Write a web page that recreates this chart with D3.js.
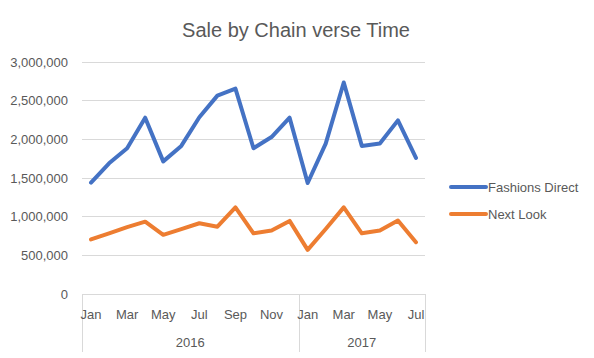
<!DOCTYPE html>
<html>
<head>
<meta charset="utf-8">
<script src="https://cdn.jsdelivr.net/npm/d3@7"></script>
<style>
  html, body { margin: 0; padding: 0; background: #fff; }
  svg { display: block; }
  text { font-family: "Liberation Sans", Arial, sans-serif; fill: #595959; }
</style>
</head>
<body>
<svg id="chart" width="594" height="358"></svg>
<script>
// ---- data ----
const monthLabels = ["Jan","Feb","Mar","Apr","May","Jun","Jul","Aug","Sep","Oct","Nov","Dec",
                     "Jan","Feb","Mar","Apr","May","Jun","Jul"];
const yearOfMonth = [2016,2016,2016,2016,2016,2016,2016,2016,2016,2016,2016,2016,
                     2017,2017,2017,2017,2017,2017,2017];
const years = [2016, 2017];
const fashionsDirect = [1440000,1690000,1885000,2280000,1715000,1915000,2285000,2565000,2655000,1885000,2030000,2280000,
                        1435000,1945000,2735000,1915000,1945000,2245000,1760000];
const nextLook = [705000,785000,865000,935000,765000,840000,915000,870000,1120000,785000,820000,945000,
                  570000,840000,1120000,785000,820000,950000,670000];
const yTicks = [0,500000,1000000,1500000,2000000,2500000,3000000];
const seriesNames = ["Fashions Direct","Next Look"];
const seriesColors = ["#4472C4","#ED7D31"];
const chartTitle = "Sale by Chain verse Time";

// ---- layout ----
const svg = d3.select("#chart");
const plotL = 82, plotR = 425, plotT = 62, plotB = 294;
const keys = monthLabels.map((m, i) => yearOfMonth[i] + "-" + m + "-" + i);

const x = d3.scaleBand().domain(keys).range([plotL, plotR]).padding(0);
const y = d3.scaleLinear().domain([0, 3000000]).range([plotB, plotT]);
const cx = i => x(keys[i]) + x.bandwidth() / 2;

// title
svg.append("text")
  .attr("x", 296).attr("y", 37)
  .attr("text-anchor", "middle")
  .style("font-size", "20px")
  .text(chartTitle);

// gridlines
svg.append("g").selectAll("line")
  .data(yTicks.filter(d => d > 0))
  .join("line")
  .attr("x1", plotL).attr("x2", plotR)
  .attr("y1", d => y(d)).attr("y2", d => y(d))
  .attr("stroke", "#d9d9d9").attr("stroke-width", 1)
  .attr("shape-rendering", "crispEdges");

// y axis
const yAxis = svg.append("g")
  .attr("transform", `translate(${plotL},0)`)
  .call(d3.axisLeft(y).tickValues(yTicks).tickFormat(d3.format(",")).tickSize(0).tickPadding(14));
yAxis.select(".domain").remove();
yAxis.selectAll("text").style("font-size", "13px").style("fill", "#595959")
  .style("font-family", "'Liberation Sans', Arial, sans-serif");

// x axis baseline
svg.append("line")
  .attr("x1", plotL).attr("x2", plotR).attr("y1", plotB).attr("y2", plotB)
  .attr("stroke", "#d9d9d9").attr("shape-rendering", "crispEdges");

// year separators
const yearBounds = years.map(yr => {
  const idx = yearOfMonth.map((v, i) => v === yr ? i : -1).filter(i => i >= 0);
  return { yr, x0: x(keys[idx[0]]), x1: x(keys[idx[idx.length - 1]]) + x.bandwidth() };
});
const seps = [plotL].concat(yearBounds.map(b => b.x1));
svg.append("g").selectAll("line")
  .data(seps).join("line")
  .attr("x1", d => Math.round(d) + 0.5).attr("x2", d => Math.round(d) + 0.5)
  .attr("y1", plotB).attr("y2", 352)
  .attr("stroke", "#d9d9d9");

// month labels (every other)
svg.append("g").selectAll("text")
  .data(monthLabels.map((m, i) => ({ m, i })).filter(d => d.i % 2 === 0))
  .join("text")
  .attr("x", d => cx(d.i)).attr("y", 314)
  .attr("dy", "0.35em")
  .attr("text-anchor", "middle")
  .style("font-size", "13px")
  .text(d => d.m);

// year labels
svg.append("g").selectAll("text")
  .data(yearBounds).join("text")
  .attr("x", d => (d.x0 + d.x1) / 2).attr("y", 342)
  .attr("dy", "0.35em")
  .attr("text-anchor", "middle")
  .style("font-size", "13px")
  .text(d => d.yr);

// lines
const line = d3.line().x((d, i) => cx(i)).y(d => y(d));
[fashionsDirect, nextLook].forEach((s, k) => {
  svg.append("path")
    .datum(s)
    .attr("d", line)
    .attr("fill", "none")
    .attr("stroke", seriesColors[k])
    .attr("stroke-width", 4)
    .attr("stroke-linejoin", "round")
    .attr("stroke-linecap", "round");
});

// legend
const legY = [187, 214];
seriesNames.forEach((n, k) => {
  svg.append("line")
    .attr("x1", 451).attr("x2", 486)
    .attr("y1", legY[k]).attr("y2", legY[k])
    .attr("stroke", seriesColors[k]).attr("stroke-width", 4)
    .attr("stroke-linecap", "round");
  svg.append("text")
    .attr("x", 488).attr("y", legY[k])
    .attr("dy", "0.35em")
    .style("font-size", "13px")
    .text(n);
});
</script>
</body>
</html>
